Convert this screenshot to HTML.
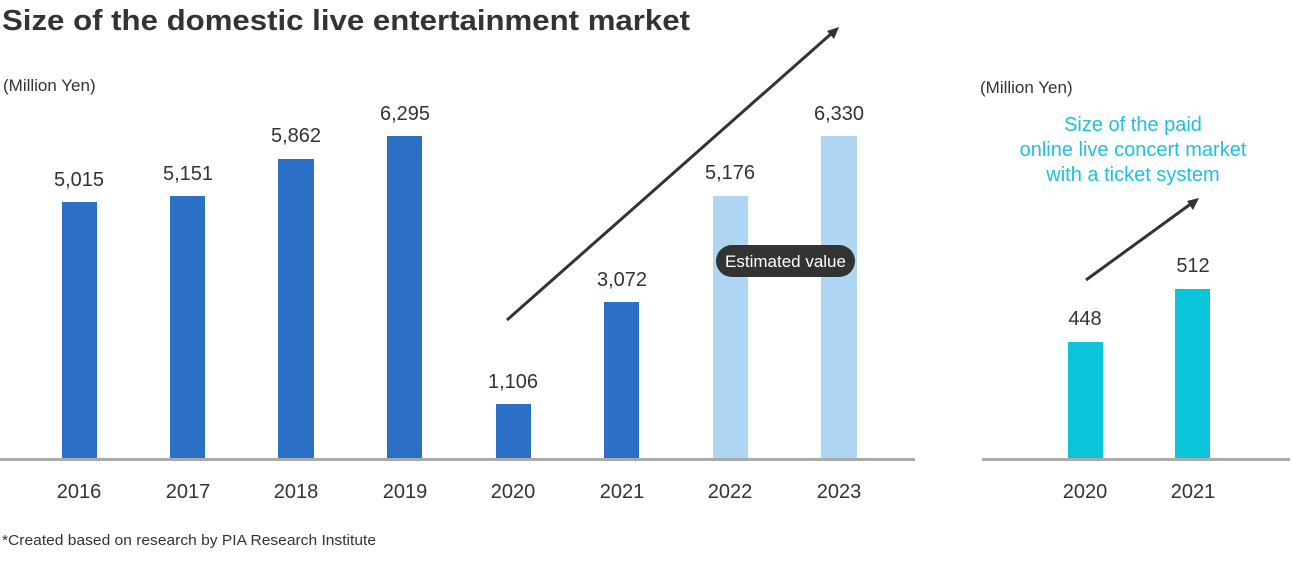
<!DOCTYPE html>
<html><head><meta charset="utf-8"><style>
body{margin:0;width:1292px;height:567px;background:#fff;overflow:hidden;font-family:"Liberation Sans",sans-serif;color:#333}
</style></head><body>
<svg width="1292" height="567" viewBox="0 0 1292 567" xmlns="http://www.w3.org/2000/svg" font-family="Liberation Sans, sans-serif">
<text x="2" y="30" font-size="29" font-weight="bold" fill="#333" textLength="688" lengthAdjust="spacingAndGlyphs">Size of the domestic live entertainment market</text>
<text x="3" y="91" font-size="17" fill="#333">(Million Yen)</text>
<text x="980" y="93" font-size="17" fill="#333">(Million Yen)</text>
<g fill="#2b70c5">
<rect x="62" y="202" width="35" height="258"/>
<rect x="170" y="196" width="35" height="264"/>
<rect x="278" y="159" width="36" height="301"/>
<rect x="387" y="136" width="35" height="324"/>
<rect x="496" y="404" width="35" height="56"/>
<rect x="604" y="302" width="35" height="158"/>
</g>
<g fill="#aed6f3">
<rect x="713" y="196" width="35" height="264"/>
<rect x="821" y="136" width="36" height="324"/>
</g>
<g fill="#0ac4da">
<rect x="1068" y="342" width="35" height="118"/>
<rect x="1175" y="289" width="35" height="171"/>
</g>
<rect x="0" y="458" width="915" height="3" fill="#aaa"/>
<rect x="982" y="458" width="308" height="3" fill="#aaa"/>
<g font-size="20" fill="#333" text-anchor="middle">
<text x="79" y="186">5,015</text>
<text x="188" y="180">5,151</text>
<text x="296" y="142">5,862</text>
<text x="405" y="120">6,295</text>
<text x="513" y="388">1,106</text>
<text x="622" y="286">3,072</text>
<text x="730" y="179">5,176</text>
<text x="839" y="120">6,330</text>
<text x="1085" y="325">448</text>
<text x="1193" y="272">512</text>
<text x="79" y="498">2016</text>
<text x="188" y="498">2017</text>
<text x="296" y="498">2018</text>
<text x="405" y="498">2019</text>
<text x="513" y="498">2020</text>
<text x="622" y="498">2021</text>
<text x="730" y="498">2022</text>
<text x="839" y="498">2023</text>
<text x="1085" y="498">2020</text>
<text x="1193" y="498">2021</text>
</g>
<line x1="507" y1="320" x2="832" y2="33" stroke="#333" stroke-width="3"/>
<polygon points="839,27 827,31 834,39" fill="#333"/>
<line x1="1086" y1="280" x2="1192" y2="203" stroke="#333" stroke-width="3"/>
<polygon points="1199,198 1187,201 1193,210" fill="#333"/>
<rect x="716" y="245" width="139" height="32" rx="16" fill="#333"/>
<text x="785.5" y="267" font-size="17" fill="#fff" text-anchor="middle">Estimated value</text>
<g font-size="20" fill="#1ec0dc" text-anchor="middle">
<text x="1133" y="131">Size of the paid</text>
<text x="1133" y="156">online live concert market</text>
<text x="1133" y="181">with a ticket system</text>
</g>
<text x="2" y="545" font-size="15" fill="#333" textLength="374" lengthAdjust="spacingAndGlyphs">*Created based on research by PIA Research Institute</text>
</svg>
</body></html>
